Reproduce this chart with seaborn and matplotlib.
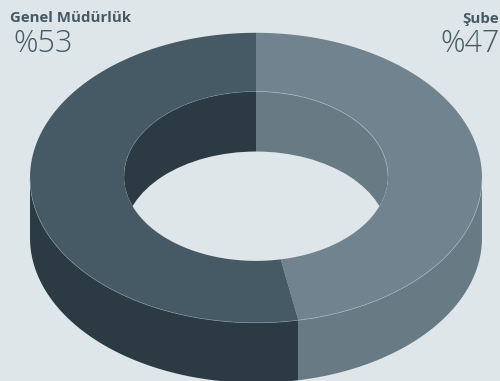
import numpy as np
import matplotlib
matplotlib.use("Agg")
import matplotlib.pyplot as plt
import seaborn as sns

# Share of each unit, clockwise from twelve o'clock
units = ["Şube", "Genel Müdürlük"]
shares = [47, 53]

BG = "#dfe6e9"
TOP_COLORS = ["#70838e", "#465a65"]
WALL_COLORS = ["#687b85", "#2b3a43"]
EDGE_COLORS = ["#b4c2c8", "#8b9ca5"]

W, H = 500, 381
RX, RY = 226.0, 145.0      # outer ellipse radii in pixels
CX, CY = 256.0, 177.8      # ellipse centre in pixels
INNER = 0.584              # hole radius relative to the outer radius
LIFT = 1.6 / RY            # the hole sits slightly above the ring centre
DEPTH = 60.0 / RY          # extrusion height in y units

sns.set_theme(style="white", rc={"figure.facecolor": BG, "axes.facecolor": BG})
fig = plt.figure(figsize=(W / 100, H / 100), dpi=100, facecolor=BG)
ax = fig.add_axes([0, 0, 1, 1])

fractions = np.array(shares) / sum(shares)
edges = 90 - 360 * np.concatenate([[0], np.cumsum(fractions)])
front_edges = np.clip(edges, -180, 0)   # only the near half of the wall shows


def arc(start, stop, radius=1.0, drop=0.0):
    t = np.radians(np.linspace(start, stop, 300))
    return radius * np.cos(t), radius * np.sin(t) - drop


# Outer side wall of the extruded ring
for i, color in enumerate(WALL_COLORS):
    x0, y0 = arc(front_edges[i], front_edges[i + 1])
    x1, y1 = arc(front_edges[i + 1], front_edges[i], drop=DEPTH)
    ax.fill(np.r_[x0, x1], np.r_[y0, y1], color=color, lw=0)

# Far wall of the hole, then the see-through opening below it
ax.pie(shares, colors=WALL_COLORS, startangle=90, counterclock=False,
       radius=INNER, center=(0, LIFT), wedgeprops=dict(linewidth=0))
ax.pie([1], colors=[BG], radius=INNER, center=(0, LIFT - DEPTH),
       wedgeprops=dict(linewidth=0))

# Top face of the ring
for i, color in enumerate(TOP_COLORS):
    x0, y0 = arc(edges[i], edges[i + 1])
    x1, y1 = arc(edges[i + 1], edges[i], INNER, drop=-LIFT)
    ax.fill(np.r_[x0, x1], np.r_[y0, y1], color=color, lw=0)

# Thin highlights: near rim of the outer edge, far rim of the hole
for i, color in enumerate(EDGE_COLORS):
    ax.plot(*arc(front_edges[i], front_edges[i + 1]), color=color, lw=0.5,
            alpha=0.7, solid_capstyle="butt")
ax.plot(*arc(90, 0, INNER, drop=-LIFT), color=EDGE_COLORS[0], lw=0.5, alpha=0.7,
        solid_capstyle="butt")
ax.plot(*arc(180, 90, INNER, drop=-LIFT), color=EDGE_COLORS[1], lw=0.4, alpha=0.5,
        solid_capstyle="butt")

ax.set_aspect("auto")
ax.set_xlim(-CX / RX, (W - CX) / RX)
ax.set_ylim((CY - H) / RY, CY / RY)
ax.axis("off")

TEXT = "#465a65"
fig.text(10 / W, 1 - 22.5 / H, units[1], family="Open Sans", weight="bold",
         fontsize=10.8, color=TEXT)
fig.text(13 / W, 1 - 52 / H, f"%{shares[1]}", family="Open Sans", weight="light",
         fontsize=22, color=TEXT)
fig.text(499 / W, 1 - 22.5 / H, units[0], family="Open Sans", weight="bold",
         fontsize=10.8, color=TEXT, ha="right")
fig.text(499.5 / W, 1 - 52 / H, f"%{shares[0]}", family="Open Sans", weight="light",
         fontsize=22, color=TEXT, ha="right")

fig.savefig("out.png", dpi=100, facecolor=BG)
